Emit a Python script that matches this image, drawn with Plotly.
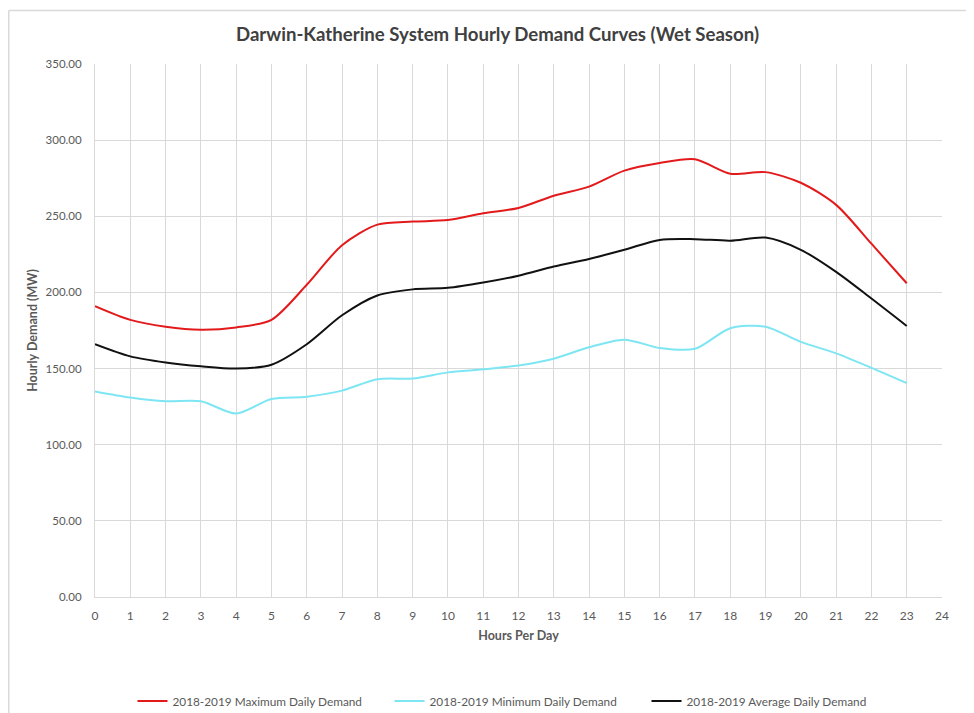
import plotly.graph_objects as go

hours = list(range(24))
max_demand = [191, 182, 177.5, 175.5, 177, 182, 205, 231, 244.5, 246.5, 247.5, 252, 255.5, 263.5, 269.5, 280, 285, 287.5, 278, 279, 272, 257.5, 232, 206]
min_demand = [135, 131, 128.5, 128.5, 120.5, 130, 131.5, 135.5, 143, 143.5, 147.5, 149.5, 152, 156.5, 164, 169, 163.5, 163, 176.5, 177.5, 167.5, 160, 150.5, 140.5]
avg_demand = [166, 158, 154, 151.5, 150, 152.5, 166, 185, 198, 202, 203, 206.5, 211, 217, 222, 228, 234.5, 235, 234, 236, 228, 213.5, 196, 178]

series_names = ["2018-2019 Maximum Daily Demand", "2018-2019 Minimum Daily Demand", "2018-2019 Average Daily Demand"]
series_colors = ["#e31a1c", "#7de6f2", "#111111"]
y_ticks = [0, 50, 100, 150, 200, 250, 300, 350]
x_ticks = list(range(25))

fig = go.Figure()
for name, vals, col in zip(series_names, [max_demand, min_demand, avg_demand], series_colors):
    fig.add_trace(go.Scatter(x=hours, y=vals, mode="lines", name=name,
                             line=dict(color=col, width=2, shape="spline", smoothing=0.8)))

FONT = "Lato, Open Sans, sans-serif"
W, H = 966, 705
L, R, T, B = 87, 32, 56, 116
PW, PH = W - L - R, H - T - B

fig.update_layout(
    width=W, height=H,
    margin=dict(l=L, r=R, t=T, b=B, autoexpand=False),
    paper_bgcolor="white", plot_bgcolor="white",
    font=dict(family=FONT, color="#595959", size=11),
    title=dict(text="<b>Darwin-Katherine System Hourly Demand Curves (Wet Season)</b>",
               x=(497.5 - 8) / W, xanchor="center", y=1 - 26 / H, yanchor="middle",
               font=dict(size=18.6, color="#404040", family=FONT)),
    showlegend=True,
    legend=dict(orientation="h", x=(518 - 95) / PW, xanchor="center", y=-104 / PH, yanchor="middle",
                font=dict(size=11.8, color="#595959", family=FONT), itemwidth=30,
                entrywidth=212, entrywidthmode="pixels",
                traceorder="normal"),
    xaxis=dict(range=[0, 24], tickvals=x_ticks, ticktext=[str(t) for t in x_ticks],
               showgrid=True, gridcolor="#d9d9d9", gridwidth=1,
               showline=True, linecolor="#d9d9d9", linewidth=1, zeroline=False,
               ticks="outside", ticklen=8, tickcolor="rgba(0,0,0,0)",
               tickfont=dict(size=12, color="#595959"),
               title=dict(text="<b>Hours Per Day</b>", font=dict(size=12.5, color="#595959"), standoff=8)),
    yaxis=dict(range=[0, 350], tickvals=y_ticks, ticktext=[f"{v:.2f}" for v in y_ticks],
               showgrid=True, gridcolor="#d9d9d9", gridwidth=1,
               showline=True, linecolor="#d9d9d9", linewidth=1, zeroline=False,
               ticks="outside", ticklen=10, tickcolor="rgba(0,0,0,0)",
               tickfont=dict(size=11.5, color="#595959"),
               title=dict(text="<b>Hourly Demand (MW)</b>", font=dict(size=12.5, color="#595959"), standoff=5)),
)

# outer chart frame (top and left edges)
fx = (0.75 - L) / PW
fy = (PH + T - 2.5) / PH
fig.add_shape(type="line", xref="paper", yref="paper",
              x0=fx, x1=1 + R / PW, y0=fy, y1=fy,
              line=dict(color="#d9d9d9", width=1.5))
fig.add_shape(type="line", xref="paper", yref="paper",
              x0=fx, x1=fx, y0=fy, y1=-B / PH,
              line=dict(color="#d9d9d9", width=1.5))

fig.write_html("out.html")
